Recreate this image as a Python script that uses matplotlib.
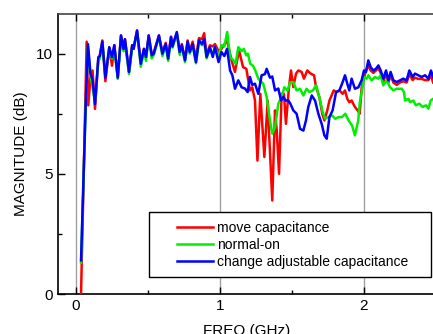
import matplotlib
matplotlib.use("Agg")
import matplotlib.pyplot as plt
import matplotlib.patches as mpatches
from matplotlib.ticker import MultipleLocator

plt.rcParams['font.family'] = ['Liberation Sans', 'DejaVu Sans']

# --- data (GHz, dB) ---
# shared low-frequency sampling (the three traces nearly coincide there)
low_freq = [0.10, 0.115, 0.132, 0.155, 0.165, 0.183, 0.204, 0.231, 0.25, 0.266,
            0.29, 0.3125, 0.33, 0.34, 0.368, 0.39, 0.40, 0.424, 0.45, 0.472,
            0.486, 0.505, 0.526, 0.54, 0.576, 0.60, 0.623, 0.64, 0.66, 0.67,
            0.70, 0.72, 0.735, 0.757, 0.775, 0.79, 0.81, 0.833, 0.854, 0.875,
            0.89, 0.907, 0.93, 0.95]

red_start_f = [0.035, 0.074, 0.085]
red_start_m = [0.0, 10.5, 7.85]
red_low = [9.0, 9.3, 7.7, 9.8, 9.9, 10.55, 8.85, 10.25, 9.5, 10.35,
           9.0, 10.75, 10.2, 10.6, 9.25, 10.35, 10.25, 10.95, 9.6, 10.2,
           9.85, 10.75, 9.95, 10.05, 10.75, 10.05, 10.45, 9.85, 10.7, 10.35,
           10.85, 10.1, 10.4, 9.75, 10.55, 10.1, 10.5, 9.8, 10.65, 10.6,
           10.85, 9.95, 10.35, 10.3]
red_hi_f = [0.965, 0.99, 1.01, 1.049, 1.08, 1.104, 1.132, 1.16, 1.183, 1.208,
            1.224, 1.243, 1.26, 1.28, 1.308, 1.331, 1.34, 1.363, 1.382, 1.394,
            1.41, 1.428, 1.444, 1.458, 1.479, 1.493, 1.509, 1.528, 1.544, 1.567,
            1.583, 1.606, 1.63, 1.653, 1.667, 1.69, 1.71, 1.725, 1.745, 1.76,
            1.775, 1.79, 1.81, 1.83, 1.852, 1.868, 1.884, 1.898, 1.914, 1.937,
            1.956, 1.97, 1.984, 2.0, 2.014, 2.03, 2.046, 2.065, 2.083, 2.1,
            2.116, 2.134, 2.153, 2.169, 2.185, 2.204, 2.227, 2.25, 2.273, 2.296,
            2.315, 2.338, 2.354, 2.377, 2.4, 2.424, 2.447, 2.465, 2.48]
red_hi_m = [10.4, 10.1, 10.2, 10.55, 9.72, 9.24, 10.14, 9.44, 9.37, 8.47,
            8.6, 8.05, 5.55, 8.33, 5.7, 8.05, 6.8, 3.89, 7.64, 6.8,
            5.0, 8.33, 8.33, 7.08, 8.6, 9.3, 8.61, 9.17, 9.3, 9.24,
            8.96, 9.3, 9.17, 9.1, 8.61, 8.19, 7.5, 7.22, 7.64, 8.05,
            8.26, 8.47, 8.4, 8.47, 8.33, 8.47, 8.12, 7.98, 8.05, 7.78,
            7.64, 7.5, 8.6, 9.0, 9.3, 9.5, 9.3, 9.2, 9.3, 9.4,
            9.2, 8.8, 9.2, 8.8, 9.1, 8.8, 8.7, 8.8, 8.85, 8.8,
            9.15, 8.9, 9.0, 8.95, 8.95, 8.9, 8.9, 9.1, 8.8]

green_start_f = [0.035, 0.05, 0.067, 0.083]
green_start_m = [1.3, 4.3, 7.7, 10.3]
green_low = [9.1, 8.6, 8.0, 9.7, 9.8, 10.45, 9.1, 10.2, 9.8, 10.3,
             8.95, 10.7, 10.1, 10.5, 9.15, 10.25, 10.2, 10.9, 9.45, 10.1,
             9.7, 10.7, 9.8, 9.95, 10.7, 9.9, 10.35, 9.7, 10.6, 10.25,
             10.85, 9.95, 10.3, 9.65, 10.45, 10.0, 10.35, 9.6, 10.5, 10.35,
             10.5, 9.8, 10.2, 10.0]
green_hi_f = [0.965, 0.99, 1.01, 1.03, 1.05, 1.07, 1.093, 1.108, 1.127, 1.15,
              1.165, 1.183, 1.194, 1.21, 1.229, 1.245, 1.266, 1.3, 1.324, 1.347,
              1.363, 1.382, 1.405, 1.428, 1.447, 1.47, 1.486, 1.509, 1.532, 1.556,
              1.579, 1.601, 1.622, 1.645, 1.668, 1.69, 1.713, 1.731, 1.754, 1.778,
              1.8, 1.824, 1.847, 1.87, 1.893, 1.917, 1.937, 1.96, 1.97, 1.99,
              2.0, 2.02, 2.03, 2.053, 2.076, 2.1, 2.116, 2.134, 2.157, 2.18,
              2.204, 2.227, 2.262, 2.278, 2.285, 2.308, 2.32, 2.343, 2.36, 2.384,
              2.407, 2.43, 2.447, 2.463, 2.48]
green_hi_m = [10.27, 9.86, 10.35, 10.3, 10.9, 9.86, 9.72, 9.58, 10.27, 10.1,
              10.2, 9.93, 10.0, 9.58, 9.5, 9.3, 8.96, 8.75, 8.2, 7.22,
              6.67, 6.94, 7.92, 8.2, 8.6, 8.47, 8.8, 8.82, 8.47, 8.54,
              8.26, 8.54, 8.4, 8.47, 8.68, 8.19, 7.57, 7.29, 7.36, 7.43,
              7.29, 7.36, 7.36, 7.5, 7.22, 7.01, 6.6, 7.22, 7.92, 8.61,
              9.03, 8.96, 9.1, 8.89, 9.03, 8.96, 9.1, 8.68, 8.89, 8.61,
              8.47, 8.54, 8.54, 8.4, 8.05, 8.12, 7.98, 8.05, 7.85, 7.92,
              7.78, 7.85, 7.71, 8.05, 8.12]

blue_start_f = [0.035, 0.05, 0.067, 0.083]
blue_start_m = [1.4, 4.4, 7.8, 10.4]
blue_low = [9.2, 8.9, 7.9, 9.85, 9.9, 10.5, 9.0, 10.27, 9.86, 10.35,
            9.0, 10.76, 10.2, 10.6, 9.24, 10.35, 10.2, 10.97, 9.58, 10.2,
            9.86, 10.76, 9.93, 10.0, 10.76, 10.0, 10.4, 9.79, 10.7, 10.3,
            10.9, 10.07, 10.35, 9.72, 10.5, 10.07, 10.4, 9.65, 10.56, 10.4,
            10.6, 9.86, 10.27, 9.86]
blue_hi_f = [0.965, 0.99, 1.01, 1.03, 1.049, 1.07, 1.086, 1.104, 1.127, 1.15,
             1.173, 1.192, 1.208, 1.224, 1.243, 1.266, 1.289, 1.312, 1.324, 1.347,
             1.363, 1.382, 1.405, 1.424, 1.44, 1.456, 1.475, 1.49, 1.509, 1.532,
             1.556, 1.579, 1.597, 1.613, 1.637, 1.66, 1.683, 1.706, 1.725, 1.741,
             1.76, 1.782, 1.806, 1.829, 1.852, 1.868, 1.884, 1.898, 1.914, 1.937,
             1.961, 1.984, 2.0, 2.014, 2.03, 2.046, 2.065, 2.083, 2.1, 2.116,
             2.134, 2.153, 2.169, 2.185, 2.204, 2.227, 2.25, 2.273, 2.296, 2.315,
             2.338, 2.354, 2.377, 2.4, 2.424, 2.447, 2.465, 2.48]
blue_hi_m = [10.27, 9.65, 10.07, 9.9, 10.2, 9.3, 9.1, 8.54, 8.89, 8.6,
             8.55, 8.4, 9.03, 8.7, 8.75, 8.33, 9.1, 9.15, 9.37, 9.0,
             9.05, 8.47, 8.55, 8.05, 8.2, 8.05, 8.05, 7.9, 7.64, 7.5,
             6.87, 6.8, 7.22, 7.78, 8.26, 8.05, 7.5, 7.08, 6.6, 6.46,
             7.36, 7.64, 8.4, 8.47, 8.82, 9.1, 8.75, 8.47, 8.96, 8.54,
             8.6, 8.9, 9.3, 9.24, 9.72, 9.44, 9.3, 9.37, 9.51, 9.3,
             8.96, 9.3, 8.89, 9.24, 8.89, 8.82, 8.89, 8.96, 8.89, 9.3,
             9.03, 9.17, 9.1, 9.03, 9.1, 8.96, 9.3, 9.03]

labels = ["move capacitance", "normal-on", "change adjustable capacitance"]
colors = ["#ff0000", "#00ee00", "#0000ff"]

red_f = red_start_f + low_freq + red_hi_f
red_m = red_start_m + red_low + red_hi_m
green_f = green_start_f + low_freq + green_hi_f
green_m = green_start_m + green_low + green_hi_m
blue_f = blue_start_f + low_freq + blue_hi_f
blue_m = blue_start_m + blue_low + blue_hi_m

fig = plt.figure(figsize=(4.33, 3.34), dpi=100)
ax = fig.add_axes([58/433, 1 - 294/334, 378/433, 280/334])

handles = []
for f, m, c, lab in zip([red_f, green_f, blue_f], [red_m, green_m, blue_m], colors, labels):
    h, = ax.plot(f, m, color=c, lw=1.8, label=lab, zorder=3)
    handles.append(h)

ax.set_xlim(-0.125, 2.5)
ax.set_ylim(0, 11.65)
ax.set_xticks([0, 1, 2])
ax.set_yticks([0, 5, 10])
ax.xaxis.set_minor_locator(MultipleLocator(0.5))
ax.yaxis.set_minor_locator(MultipleLocator(2.5))
ax.tick_params(which='both', direction='in', top=True, right=False, labelsize=11, width=1)
ax.tick_params(which='major', length=5)
ax.tick_params(which='minor', length=3)
ax.grid(axis='x', which='major', color='#a0a0a0', lw=1)
ax.set_axisbelow(True)

for s in ax.spines.values():
    s.set_linewidth(1.2)
ax.spines['top'].set_color('#444444')

ax.set_xlabel("FREQ (GHz)", fontsize=11, labelpad=8)
ax.set_ylabel("MAGNITUDE (dB)", fontsize=11, labelpad=6)

# legend box drawn by hand so the padding matches
box = mpatches.Rectangle((0.24, 0.06), 0.748, 0.233, transform=ax.transAxes,
                         facecolor='white', edgecolor='black', lw=1, zorder=4)
ax.add_patch(box)
leg = ax.legend(handles=handles, loc='upper left', frameon=False,
                bbox_to_anchor=((177 - 58) / 378, (294 - 221) / 280),
                borderpad=0, borderaxespad=0, handlelength=2.6, handletextpad=0.25,
                labelspacing=0.2, fontsize=10)
leg.set_zorder(5)

fig.savefig("out.png", dpi=100)
